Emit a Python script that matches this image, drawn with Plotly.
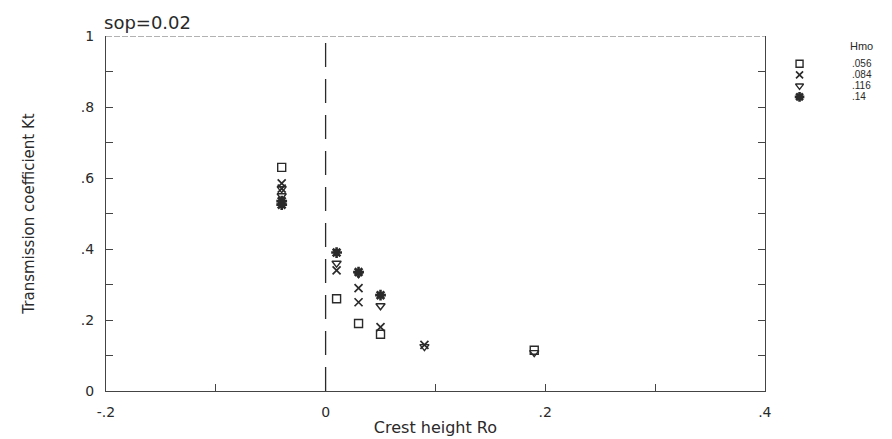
import plotly.graph_objects as go

# Transmission coefficient Kt against crest height Ro, wave steepness sop = 0.02
series_names = [".056", ".084", ".116", ".14"]

ro_056 = [-0.04, 0.01, 0.03, 0.05, 0.19]
kt_056 = [0.63, 0.26, 0.19, 0.16, 0.115]

ro_084 = [-0.04, -0.04, 0.01, 0.03, 0.03, 0.05, 0.09]
kt_084 = [0.585, 0.57, 0.34, 0.29, 0.25, 0.18, 0.13]

ro_116 = [-0.04, -0.04, 0.01, 0.03, 0.05, 0.09, 0.19]
kt_116 = [0.57, 0.55, 0.36, 0.33, 0.24, 0.125, 0.108]

ro_14 = [-0.04, -0.04, 0.01, 0.03, 0.05]
kt_14 = [0.535, 0.525, 0.39, 0.335, 0.27]

x_tick_vals = [-0.2, -0.1, 0.0, 0.1, 0.2, 0.3, 0.4]
x_tick_text = ["-.2", "", "0", "", ".2", "", ".4"]
y_tick_vals = [0.0, 0.1, 0.2, 0.3, 0.4, 0.5, 0.6, 0.7, 0.8, 0.9, 1.0]
y_tick_text = ["0", "", ".2", "", ".4", "", ".6", "", ".8", "", "1"]

INK = "#2a2a2a"
FONT = "DejaVu Sans"
KEY_FONT = "Liberation Sans"

styles = [
    dict(symbol="square-open", size=8, line=dict(width=1.4, color=INK), color=INK),
    dict(symbol="x-thin-open", size=8, line=dict(width=1.7, color=INK), color=INK),
    dict(symbol="triangle-down-open", size=8, line=dict(width=1.4, color=INK), color=INK),
    dict(symbol="asterisk-open", size=9, line=dict(width=2.6, color=INK), color=INK),
]
data = [(ro_056, kt_056), (ro_084, kt_084), (ro_116, kt_116), (ro_14, kt_14)]

fig = go.Figure()

for (xs, ys), st, name in zip(data, styles, series_names):
    fig.add_trace(go.Scatter(x=xs, y=ys, mode="markers", marker=st,
                             name=name, showlegend=False,
                             xaxis="x", yaxis="y"))

# key drawn on its own small axis to the right of the frame
rows = list(range(1, len(series_names) + 1))
for row, st, name in zip(rows, styles, series_names):
    fig.add_trace(go.Scatter(x=[0.15], y=[row], mode="markers",
                             marker={**st, "size": st["size"] - 1},
                             showlegend=False, xaxis="x2", yaxis="y2",
                             hoverinfo="skip"))
    fig.add_annotation(x=0.68, y=row, xref="x2", yref="y2", text=name,
                       showarrow=False, xanchor="left", yanchor="middle",
                       borderpad=0,
                       font=dict(family=KEY_FONT, size=10, color=INK))
fig.add_annotation(x=0.66, y=-0.6, xref="x2", yref="y2", text="Hmo",
                   showarrow=False, xanchor="left", yanchor="middle",
                   borderpad=0,
                   font=dict(family=KEY_FONT, size=11, color=INK))

# vertical dashed reference line at Ro = 0
fig.add_shape(type="line", x0=0, x1=0, y0=0, y1=1, xref="x", yref="y",
              line=dict(color=INK, width=1.3, dash="24px,12px"))

# faint broken top border of the frame
fig.add_shape(type="line", x0=0, x1=1, y0=1, y1=1, xref="x domain", yref="y",
              line=dict(color="#666", width=1, dash="6px,2px"))

axis_common = dict(showgrid=False, zeroline=False, showline=True,
                   linecolor="#444", linewidth=1, automargin=False,
                   ticks="inside", ticklen=7, tickcolor="#444",
                   ticklabelstandoff=8,
                   tickfont=dict(family=FONT, size=14, color=INK))

fig.update_layout(
    width=892, height=439,
    margin=dict(l=106, r=10, t=36, b=48),
    paper_bgcolor="white", plot_bgcolor="white",
    xaxis=dict(range=[-0.2, 0.4], domain=[0, 0.849], mirror=False,
               tickvals=x_tick_vals, ticktext=x_tick_text,
               title=dict(text="Crest height Ro", standoff=3,
                          font=dict(family=FONT, size=16, color=INK)),
               **axis_common),
    yaxis=dict(range=[0, 1], mirror="ticks",
               tickvals=y_tick_vals, ticktext=y_tick_text,
               title=dict(text="Transmission coefficient Kt", standoff=42,
                          font=dict(family=FONT, size=15, color=INK)),
               **axis_common),
    xaxis2=dict(domain=[0.875, 1.0], range=[0, 1], visible=False,
                anchor="y2"),
    yaxis2=dict(domain=[0.81, 0.99], range=[4.6, -1.2], visible=False,
                anchor="x2"),
    showlegend=False,
)

fig.add_annotation(x=0, y=1, xref="paper", yref="paper", text="sop=0.02",
                   showarrow=False, xanchor="left", yanchor="bottom",
                   xshift=-4, yshift=1,
                   font=dict(family=FONT, size=18, color=INK))

fig.write_html("out.html")
